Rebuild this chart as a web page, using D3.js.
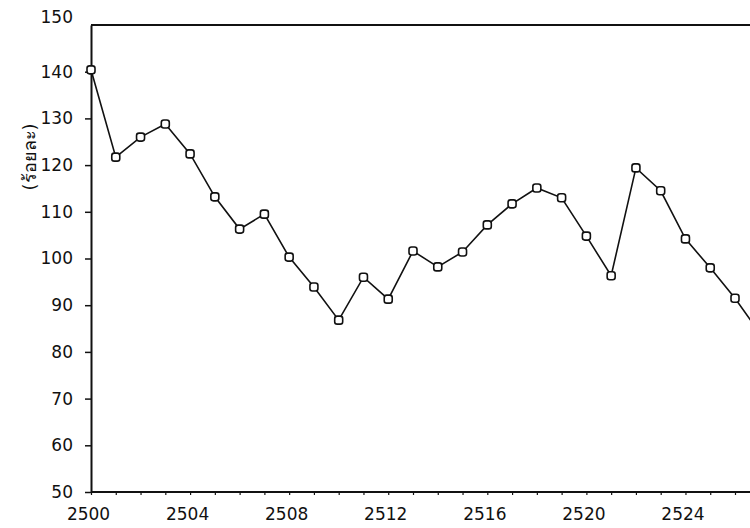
<!DOCTYPE html>
<html>
<head>
<meta charset="utf-8">
<script src="https://cdn.jsdelivr.net/npm/d3@7"></script>
<style>
  html, body { margin: 0; padding: 0; background: #fff; }
  svg { display: block; }
  text { font-family: "DejaVu Sans", sans-serif; fill: #111; }
</style>
</head>
<body>
<svg id="chart" width="750" height="528"></svg>
<script>
const years = [2500, 2501, 2502, 2503, 2504, 2505, 2506, 2507, 2508, 2509, 2510, 2511, 2512, 2513,
               2514, 2515, 2516, 2517, 2518, 2519, 2520, 2521, 2522, 2523, 2524, 2525, 2526, 2527];
const values = [140.4, 121.7, 126.0, 128.8, 122.4, 113.2, 106.3, 109.5, 100.3, 93.9, 86.8, 96.0, 91.3, 101.6,
                98.2, 101.4, 107.2, 111.7, 115.1, 113.0, 104.8, 96.3, 119.4, 114.5, 104.2, 98.0, 91.5, 84.0];
const yTicks = [50, 60, 70, 80, 90, 100, 110, 120, 130, 140, 150];
const xTickYears = d3.range(2500, 2527);
const xLabelYears = [2500, 2504, 2508, 2512, 2516, 2520, 2524];
const yTitle = "(ร้อยละ)";

const W = 750, H = 528;
const svg = d3.select("#chart");

const x = d3.scaleLinear().domain([2500, 2526]).range([91, 735]);
const y = d3.scaleLinear().domain([50, 150]).range([492, 25]);

const data = years.map((yr, i) => ({ yr, v: values[i] }));

// top frame line
svg.append("line")
  .attr("x1", x(2500)).attr("x2", W)
  .attr("y1", y(150)).attr("y2", y(150))
  .attr("stroke", "#111").attr("stroke-width", 2);

// y axis
const yAxis = svg.append("g")
  .attr("transform", `translate(${x(2500)},0)`)
  .call(d3.axisLeft(y).tickValues(yTicks).tickSize(6).tickPadding(12).tickSizeOuter(0));
yAxis.select(".domain").attr("stroke", "#111").attr("stroke-width", 2);
yAxis.selectAll(".tick line").attr("stroke", "#111").attr("stroke-width", 1.5);
yAxis.selectAll(".tick text")
  .style("font-family", "'DejaVu Sans', sans-serif")
  .style("font-size", "17px")
  .attr("fill", "#111");
yAxis.selectAll(".tick").filter(d => d === 150).select("line").remove();
yAxis.selectAll(".tick").filter(d => d === 150).select("text").attr("dy", "-0.15em");

// x axis
const xAxis = svg.append("g")
  .attr("transform", `translate(0,${y(50)})`)
  .call(d3.axisBottom(x).tickValues(xTickYears).tickSize(3).tickPadding(13).tickSizeOuter(0)
    .tickFormat(d => xLabelYears.includes(d) ? String(d) : ""));
xAxis.select(".domain").remove();
xAxis.append("line")
  .attr("x1", x(2500)).attr("x2", W).attr("y1", 0).attr("y2", 0)
  .attr("stroke", "#111").attr("stroke-width", 2);
xAxis.selectAll(".tick line").attr("stroke", "#111").attr("stroke-width", 1.2);
xAxis.selectAll(".tick text")
  .style("font-family", "'DejaVu Sans', sans-serif")
  .style("font-size", "17px")
  .attr("fill", "#111")
  .attr("dx", "-3");

// y title
svg.append("text")
  .attr("transform", `translate(31,157) rotate(-90)`)
  .attr("text-anchor", "middle")
  .attr("dominant-baseline", "middle")
  .style("font-size", "18px")
  .text(yTitle);

// line
const line = d3.line().x(d => x(d.yr)).y(d => y(d.v));
svg.append("path")
  .datum(data)
  .attr("fill", "none")
  .attr("stroke", "#111")
  .attr("stroke-width", 1.6)
  .attr("d", line);

// markers
const s = 8;
svg.append("g").selectAll("rect")
  .data(data.filter(d => d.yr <= 2526))
  .join("rect")
  .attr("x", d => x(d.yr) - s / 2)
  .attr("y", d => y(d.v) - s / 2)
  .attr("width", s).attr("height", s)
  .attr("rx", 2.5).attr("ry", 2.5)
  .attr("fill", "#fff")
  .attr("stroke", "#111")
  .attr("stroke-width", 1.6);
</script>
</body>
</html>
